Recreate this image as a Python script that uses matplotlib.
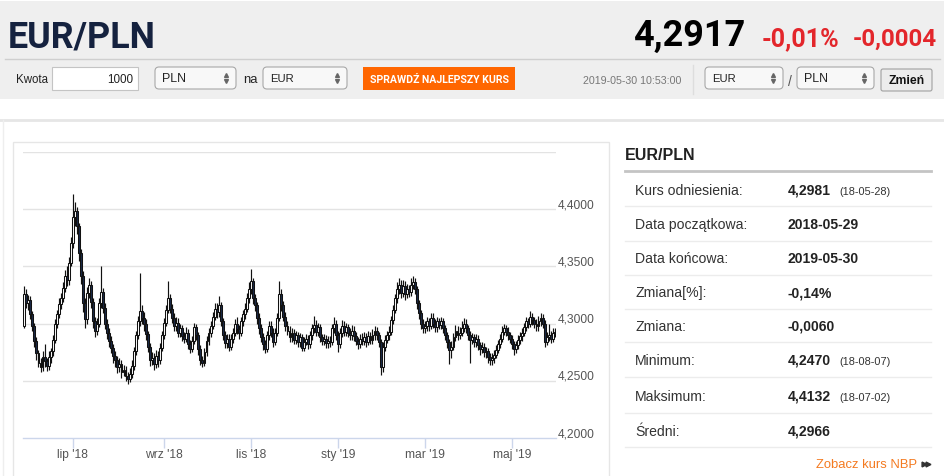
import matplotlib
matplotlib.use("Agg")
import matplotlib.pyplot as plt
from matplotlib.patches import Rectangle, FancyBboxPatch
from matplotlib import font_manager, transforms
import numpy as np
import pandas as pd

W, H = 945, 477
avail = {f.name for f in font_manager.fontManager.ttflist}
NARROW = 'Liberation Sans Narrow' if 'Liberation Sans Narrow' in avail else 'Roboto'
SANS = 'Liberation Sans'


def pt(px):
    return px * 0.72


# ---------------- data ----------------
start_date = "2018-05-29"
end_date = "2019-05-30"
open_first = 4.2981

closes = [
    4.326, 4.318, 4.321, 4.308, 4.298, 4.285, 4.274, 4.266, 4.262, 4.271,
    4.267, 4.263, 4.271, 4.276, 4.286, 4.300, 4.308, 4.317, 4.322, 4.331,
    4.342, 4.338, 4.353, 4.370, 4.393, 4.398, 4.385, 4.362, 4.342, 4.318,
    4.304, 4.327, 4.334, 4.319, 4.302, 4.294, 4.300, 4.318, 4.328, 4.314,
    4.300, 4.292, 4.285, 4.279, 4.272, 4.268, 4.262, 4.265, 4.258, 4.260,
    4.254, 4.252, 4.256, 4.263, 4.276, 4.290, 4.302, 4.311, 4.305, 4.300,
    4.291, 4.280, 4.268, 4.270, 4.265, 4.272, 4.268, 4.279, 4.290, 4.301,
    4.312, 4.322, 4.313, 4.305, 4.298, 4.301, 4.292, 4.296, 4.289, 4.287,
    4.292, 4.282, 4.278, 4.285, 4.297, 4.290, 4.278, 4.268, 4.266, 4.275,
    4.285, 4.292, 4.298, 4.306, 4.313, 4.310, 4.316, 4.302, 4.290, 4.283,
    4.287, 4.280, 4.287, 4.292, 4.300, 4.295, 4.292, 4.302, 4.308, 4.313,
    4.322, 4.330, 4.337, 4.322, 4.316, 4.305, 4.296, 4.288, 4.282, 4.278,
    4.290, 4.298, 4.292, 4.284, 4.292, 4.305, 4.326, 4.316, 4.306, 4.298,
    4.294, 4.288, 4.292, 4.286, 4.290, 4.284, 4.288, 4.279, 4.284, 4.287,
    4.282, 4.290, 4.296, 4.299, 4.293, 4.297, 4.288, 4.285, 4.287, 4.283,
    4.285, 4.284, 4.296, 4.300, 4.290, 4.282, 4.292, 4.298, 4.293, 4.297,
    4.292, 4.290, 4.294, 4.289, 4.285, 4.282, 4.287, 4.285, 4.288, 4.284,
    4.289, 4.286, 4.290, 4.294, 4.290, 4.284, 4.262, 4.280, 4.286, 4.290,
    4.293, 4.303, 4.312, 4.322, 4.330, 4.334, 4.327, 4.333, 4.326, 4.330,
    4.328, 4.334, 4.336, 4.330, 4.318, 4.309, 4.300, 4.296, 4.298, 4.302,
    4.298, 4.305, 4.300, 4.297, 4.302, 4.299, 4.302, 4.296, 4.290, 4.284,
    4.277, 4.280, 4.288, 4.294, 4.290, 4.292, 4.296, 4.300, 4.296, 4.290,
    4.286, 4.288, 4.284, 4.287, 4.281, 4.278, 4.280, 4.275, 4.276, 4.271,
    4.268, 4.270, 4.273, 4.277, 4.282, 4.287, 4.293, 4.296, 4.293, 4.290,
    4.287, 4.282, 4.278, 4.281, 4.286, 4.289, 4.292, 4.297, 4.302, 4.300,
    4.306, 4.303, 4.300, 4.298, 4.302, 4.305, 4.300, 4.284, 4.288, 4.290,
    4.287, 4.292, 4.2917,
]

highs = [
    4.333, 4.330, 4.325, 4.324, 4.311, 4.301, 4.288, 4.277, 4.270, 4.276,
    4.282, 4.270, 4.276, 4.279, 4.290, 4.304, 4.312, 4.322, 4.327, 4.336,
    4.347, 4.350, 4.358, 4.376, 4.4132, 4.406, 4.402, 4.388, 4.365, 4.346,
    4.322, 4.332, 4.340, 4.337, 4.322, 4.306, 4.305, 4.322, 4.350, 4.331,
    4.318, 4.304, 4.296, 4.289, 4.282, 4.276, 4.272, 4.270, 4.268, 4.264,
    4.263, 4.258, 4.261, 4.268, 4.280, 4.294, 4.307, 4.344, 4.316, 4.310,
    4.304, 4.294, 4.283, 4.275, 4.274, 4.277, 4.276, 4.283, 4.294, 4.305,
    4.316, 4.337, 4.326, 4.317, 4.309, 4.306, 4.305, 4.300, 4.299, 4.293,
    4.297, 4.295, 4.286, 4.289, 4.301, 4.300, 4.293, 4.281, 4.272, 4.279,
    4.289, 4.296, 4.302, 4.310, 4.318, 4.318, 4.324, 4.319, 4.305, 4.294,
    4.291, 4.291, 4.291, 4.296, 4.304, 4.306, 4.299, 4.306, 4.312, 4.318,
    4.327, 4.336, 4.348, 4.340, 4.326, 4.319, 4.309, 4.300, 4.292, 4.286,
    4.294, 4.302, 4.302, 4.296, 4.296, 4.309, 4.337, 4.330, 4.320, 4.310,
    4.302, 4.298, 4.296, 4.295, 4.294, 4.293, 4.292, 4.291, 4.288, 4.291,
    4.290, 4.294, 4.300, 4.307, 4.303, 4.301, 4.300, 4.291, 4.291, 4.290,
    4.289, 4.289, 4.300, 4.306, 4.303, 4.294, 4.296, 4.303, 4.302, 4.301,
    4.300, 4.296, 4.299, 4.298, 4.293, 4.288, 4.291, 4.292, 4.293, 4.292,
    4.294, 4.293, 4.295, 4.298, 4.297, 4.293, 4.287, 4.284, 4.290, 4.294,
    4.298, 4.307, 4.316, 4.326, 4.336, 4.340, 4.338, 4.338, 4.337, 4.335,
    4.334, 4.340, 4.342, 4.340, 4.333, 4.321, 4.312, 4.304, 4.302, 4.306,
    4.305, 4.309, 4.309, 4.304, 4.306, 4.305, 4.306, 4.305, 4.299, 4.293,
    4.287, 4.285, 4.292, 4.299, 4.298, 4.297, 4.302, 4.305, 4.304, 4.299,
    4.294, 4.292, 4.291, 4.291, 4.290, 4.284, 4.284, 4.283, 4.280, 4.279,
    4.274, 4.274, 4.277, 4.281, 4.286, 4.291, 4.298, 4.300, 4.299, 4.297,
    4.293, 4.290, 4.285, 4.285, 4.290, 4.293, 4.296, 4.301, 4.306, 4.305,
    4.311, 4.309, 4.306, 4.304, 4.307, 4.309, 4.308, 4.303, 4.293, 4.300,
    4.294, 4.296, 4.296,
]

lows = [
    4.296, 4.314, 4.312, 4.304, 4.294, 4.280, 4.268, 4.262, 4.258, 4.259,
    4.262, 4.259, 4.260, 4.266, 4.272, 4.283, 4.296, 4.305, 4.313, 4.319,
    4.328, 4.333, 4.334, 4.350, 4.366, 4.385, 4.378, 4.355, 4.335, 4.310,
    4.296, 4.300, 4.322, 4.314, 4.296, 4.288, 4.290, 4.297, 4.314, 4.309,
    4.295, 4.287, 4.280, 4.274, 4.266, 4.262, 4.257, 4.258, 4.253, 4.254,
    4.250, 4.247, 4.249, 4.253, 4.260, 4.273, 4.287, 4.298, 4.300, 4.294,
    4.286, 4.275, 4.263, 4.264, 4.260, 4.261, 4.262, 4.265, 4.276, 4.287,
    4.298, 4.309, 4.309, 4.301, 4.294, 4.294, 4.288, 4.288, 4.285, 4.283,
    4.284, 4.278, 4.274, 4.275, 4.282, 4.286, 4.273, 4.264, 4.262, 4.263,
    4.272, 4.281, 4.288, 4.295, 4.303, 4.305, 4.306, 4.298, 4.286, 4.279,
    4.279, 4.276, 4.277, 4.283, 4.289, 4.291, 4.287, 4.289, 4.298, 4.304,
    4.310, 4.318, 4.326, 4.317, 4.311, 4.300, 4.291, 4.284, 4.277, 4.274,
    4.275, 4.286, 4.288, 4.280, 4.281, 4.289, 4.302, 4.311, 4.302, 4.294,
    4.290, 4.284, 4.284, 4.282, 4.282, 4.280, 4.280, 4.276, 4.276, 4.281,
    4.278, 4.279, 4.286, 4.292, 4.289, 4.289, 4.284, 4.281, 4.281, 4.279,
    4.279, 4.280, 4.281, 4.292, 4.286, 4.275, 4.279, 4.288, 4.289, 4.289,
    4.288, 4.286, 4.286, 4.285, 4.281, 4.278, 4.279, 4.281, 4.281, 4.280,
    4.281, 4.282, 4.282, 4.286, 4.286, 4.280, 4.255, 4.258, 4.276, 4.283,
    4.286, 4.290, 4.300, 4.309, 4.318, 4.326, 4.322, 4.323, 4.321, 4.322,
    4.323, 4.324, 4.330, 4.326, 4.313, 4.304, 4.295, 4.292, 4.292, 4.294,
    4.294, 4.295, 4.296, 4.293, 4.293, 4.295, 4.295, 4.292, 4.286, 4.279,
    4.265, 4.270, 4.277, 4.285, 4.286, 4.287, 4.289, 4.293, 4.292, 4.286,
    4.266, 4.282, 4.280, 4.280, 4.277, 4.273, 4.274, 4.271, 4.270, 4.266,
    4.264, 4.264, 4.266, 4.270, 4.274, 4.279, 4.284, 4.290, 4.289, 4.286,
    4.283, 4.278, 4.273, 4.274, 4.278, 4.282, 4.285, 4.289, 4.294, 4.296,
    4.297, 4.299, 4.296, 4.294, 4.294, 4.298, 4.296, 4.280, 4.281, 4.285,
    4.283, 4.284, 4.288,
]

month_starts = ["2018-07-01", "2018-09-01", "2018-11-01", "2019-01-01", "2019-03-01", "2019-05-01"]
month_labels = ["lip '18", "wrz '18", "lis '18", "sty '19", "mar '19", "maj '19"]
y_ticks = [4.20, 4.25, 4.30, 4.35, 4.40]
y_tick_labels = ["4,2000", "4,2500", "4,3000", "4,3500", "4,4000"]
grid_levels = [4.25, 4.30, 4.35, 4.40, 4.45]

pair = "EUR/PLN"
last_rate = "4,2917"
change_pct = "-0,01%"
change_abs = "-0,0004"
timestamp = "2019-05-30 10:53:00"

stat_labels = ["Kurs odniesienia:", "Data początkowa:", "Data końcowa:", "Zmiana[%]:",
               "Zmiana:", "Minimum:", "Maksimum:", "Średni:"]
stat_values = ["4,2981", "2018-05-29", "2019-05-30", "-0,14%", "-0,0060", "4,2470", "4,4132", "4,2966"]
stat_dates = ["(18-05-28)", "", "", "", "", "(18-08-07)", "(18-07-02)", ""]

# ---------------- figure ----------------
fig = plt.figure(figsize=(W / 100, H / 100), dpi=100)
renderer = fig.canvas.get_renderer()
bg = fig.add_axes([0, 0, 1, 1])
bg.set_xlim(0, W)
bg.set_ylim(H, 0)
bg.axis('off')
bg.set_zorder(0)


def fit_text(x, y, s, width, size_px, **kw):
    """Draw text and shrink its font size so it spans `width` pixels."""
    t = bg.text(x, y, s, fontsize=pt(size_px), **kw)
    w = t.get_window_extent(renderer=renderer).width
    if w > width:
        t.set_fontsize(pt(size_px) * width / w)
    return t


# header band
bg.add_patch(Rectangle((0, 2), W, 98, fc='#efefef', ec='none'))
bg.plot([5, 940], [59.5, 59.5], color='#cfcfcf', lw=1)

fit_text(8, 47, pair, 148, 45, fontweight='bold', color='#15223f',
         family=NARROW, va='baseline', ha='left')
fit_text(746, 46, last_rate, 112, 42, fontweight='bold', color='#000000',
         family=NARROW, va='baseline', ha='right')
fit_text(762, 46, change_pct, 78, 26, fontweight='bold', color='#e3262b',
         family=NARROW, va='baseline', ha='left')
fit_text(937, 46, change_abs, 85, 26, fontweight='bold', color='#e3262b',
         family=NARROW, va='baseline', ha='right')

# controls row
fit_text(16, 80, "Kwota", 32, 13, color='#222222', family=SANS, va='center')
bg.add_patch(Rectangle((52, 68), 86, 23, fc='white', ec='#c4c4c4', lw=0.8))
fit_text(133, 80, "1000", 26, 13, color='#222222', family=SANS, va='center', ha='right')


def select_box(x0, x1, y0, y1, label):
    bg.add_patch(FancyBboxPatch((x0, y0), x1 - x0, y1 - y0,
                                boxstyle="round,pad=0,rounding_size=4",
                                fc='#f8f8f8', ec='#a8a8a8', lw=0.8))
    yc = (y0 + y1) / 2
    fit_text(x0 + 7, yc, label, 24, 13, color='#222222', family=SANS, va='center')
    bg.plot([x1 - 10], [yc - 3], marker='^', ms=2.8, color='#666666', ls='none')
    bg.plot([x1 - 10], [yc + 3], marker='v', ms=2.8, color='#666666', ls='none')


select_box(155, 236, 68, 90, "PLN")
fit_text(243, 80, "na", 15, 13, color='#222222', family=SANS, va='center')
select_box(263, 347, 68, 90, "EUR")

bg.add_patch(Rectangle((363, 68), 152, 23, fc='#ff6600', ec='none'))
fit_text(439, 79.5, "SPRAWDŹ NAJLEPSZY KURS", 139, 12, fontweight='bold',
         color='white', family=NARROW, va='center', ha='center')

fit_text(583, 81, timestamp, 98, 11, color='#777777', family=SANS, va='center')
bg.plot([693, 693], [66, 95], color='#dddddd', lw=1)
select_box(705, 783, 68, 90, "EUR")
bg.text(790, 82, "/", fontsize=pt(14), color='#555555', family=SANS, va='center', ha='center')
select_box(797, 874, 68, 90, "PLN")
bg.add_patch(FancyBboxPatch((881, 70), 51, 22, boxstyle="round,pad=0,rounding_size=2",
                            fc='#ececec', ec='#a0a0a0', lw=0.8))
fit_text(906.5, 81, "Zmień", 36, 12.5, fontweight='bold', color='#111111',
         family=SANS, va='center', ha='center')

# content frames
bg.plot([0, W], [121, 121], color='#e6e6e6', lw=2)
bg.plot([3, 3], [121, H], color='#eeeeee', lw=1)
bg.add_patch(Rectangle((13, 143), 596, 340, fc='white', ec='#e6e6e6', lw=1))

# right panel
bg.text(625, 156, pair, fontsize=pt(16), fontweight='bold', color='#222222',
        family=SANS, va='center')
bg.plot([625, 931], [172.3, 172.3], color='#c4c4c4', lw=2)
row_centers = [191, 225, 259, 293.3, 326.7, 361, 396.7, 431.7]
row_lines = [207, 241.7, 275.7, 310, 343.3, 378.3, 414.3, 448.3]
for lab, val, dt, yc, yl in zip(stat_labels, stat_values, stat_dates, row_centers, row_lines):
    bg.text(635, yc, lab, fontsize=pt(14), color='#333333', family=SANS, va='center')
    bg.text(788, yc, val, fontsize=pt(14), fontweight='bold', color='#222222',
            family=SANS, va='center')
    if dt:
        bg.text(839, yc + 1, dt, fontsize=pt(11), color='#333333', family=SANS, va='center')
    bg.plot([625, 931], [yl, yl], color='#ececec', lw=1)
bg.text(917, 465, "Zobacz kurs NBP", fontsize=pt(13), color='#f47a20', family=SANS,
        va='center', ha='right')
bg.plot([923.5, 927.5], [465, 465], marker='>', ms=3.5, color='#333333', ls='none')

# ---------------- candlestick chart ----------------
dates = pd.bdate_range(start_date, end_date)
n = len(closes)
x = np.arange(n)
c = np.array(closes)
o = np.concatenate([[open_first], c[:-1]])
hi = np.array(highs)
lo = np.array(lows)

left, right = 23.3, 555.7
ybot, ytop = 439.3, 152.7
ax = fig.add_axes([left / W, (H - ybot) / H, (right - left) / W, (ybot - ytop) / H])
ax.set_zorder(1)
ax.patch.set_alpha(0)
ax.set_xlim(-0.5, n - 0.5)
ax.set_ylim(4.20, 4.45)

for g in grid_levels:
    ax.axhline(g, color='#e3e3e3', lw=1, zorder=0)

up = c >= o
body_bottom = np.minimum(o, c)
body_h = np.maximum(np.abs(c - o), 0.0009)
ax.vlines(x, lo, hi, color='#111111', lw=0.85, zorder=2)
ax.bar(x[up], body_h[up], bottom=body_bottom[up], width=0.95, color='white',
       edgecolor='#111111', linewidth=0.75, zorder=3)
ax.bar(x[~up], body_h[~up], bottom=body_bottom[~up], width=0.95, color='#1a2846',
       edgecolor='#111111', linewidth=0.75, zorder=3)

for s in ['left', 'right', 'top']:
    ax.spines[s].set_visible(False)
ax.spines['bottom'].set_color('#ccd6eb')
ax.spines['bottom'].set_linewidth(1)

tick_pos = [int(np.searchsorted(dates, pd.Timestamp(m))) for m in month_starts]
ax.set_xticks(tick_pos)
ax.set_xticklabels(month_labels, fontsize=pt(12), color='#555555', family=SANS)
ax.tick_params(axis='x', length=7.2, width=1, color='#ccd6eb', pad=0)
ax.set_yticks([])

trans = transforms.offset_copy(transforms.blended_transform_factory(ax.transAxes, ax.transData),
                               fig=fig, y=2, units='dots')
for v, lab in zip(y_ticks, y_tick_labels):
    ax.text((558 - left) / (right - left), v, lab, transform=trans, fontsize=pt(12),
            color='#555555', family=SANS, va='baseline', ha='left', clip_on=False)

fig.savefig('out.png', dpi=100)
